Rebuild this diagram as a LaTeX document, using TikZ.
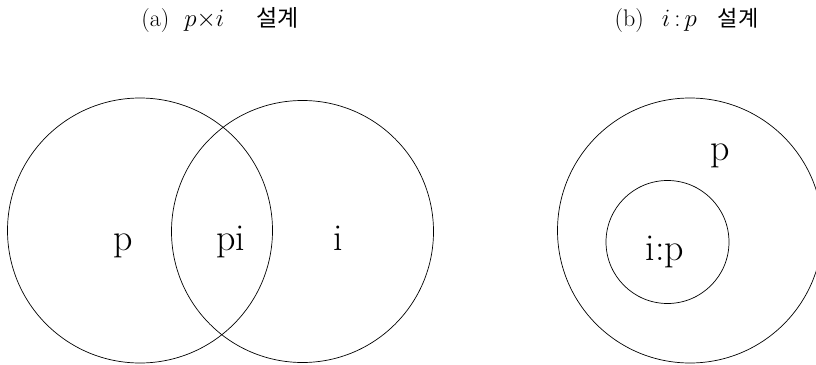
\documentclass[tikz,border=0pt]{standalone}
\usepackage{fontspec}
\newfontfamily\krfont{Noto Sans CJK KR}
\begin{document}
\begin{tikzpicture}[x=1pt,y=-1pt,
  setcircle/.style={circle, draw, line width=0.7pt, inner sep=0pt},
  setlabel/.style={anchor=base, inner sep=0pt, font=\rmfamily\fontsize{38}{42}\selectfont},
  titlelabel/.style={anchor=base, inner sep=0pt, font=\fontsize{24}{28}\selectfont}]
\useasboundingbox (0,0) rectangle (816,364);
\clip (0,0) rectangle (816,364);
% titles
\node[titlelabel] (ta) at (220,27) {(a)\hspace{15pt}$p{\times}i$\hspace{32pt}{\krfont\fontsize{23}{26}\selectfont 설계}};
\node[titlelabel] (tb) at (686.5,27) {(b)\hspace{18pt}$i\,{:}\,p$\hspace{21pt}{\krfont\fontsize{22}{26}\selectfont 설계}};
% (a) Venn
\node[setcircle, minimum size=265pt] (cp) at (140,230.5) {};
\node[setcircle, minimum size=262pt] (ci) at (302.5,231.5) {};
\node[setlabel] (lp) at (123,250) {p};
\node[setlabel] (lpi) at (231,250) {pi};
\node[setlabel] (li) at (338,250) {i};
% (b) nested
\node[setcircle, minimum size=265pt] (cout) at (690,230.5) {};
\node[setcircle, minimum size=123pt] (cin) at (667.5,242) {};
\node[setlabel] (lp2) at (720,160) {p};
\node[setlabel] (lip) at (665,260) {i:p};
\end{tikzpicture}
\end{document}
